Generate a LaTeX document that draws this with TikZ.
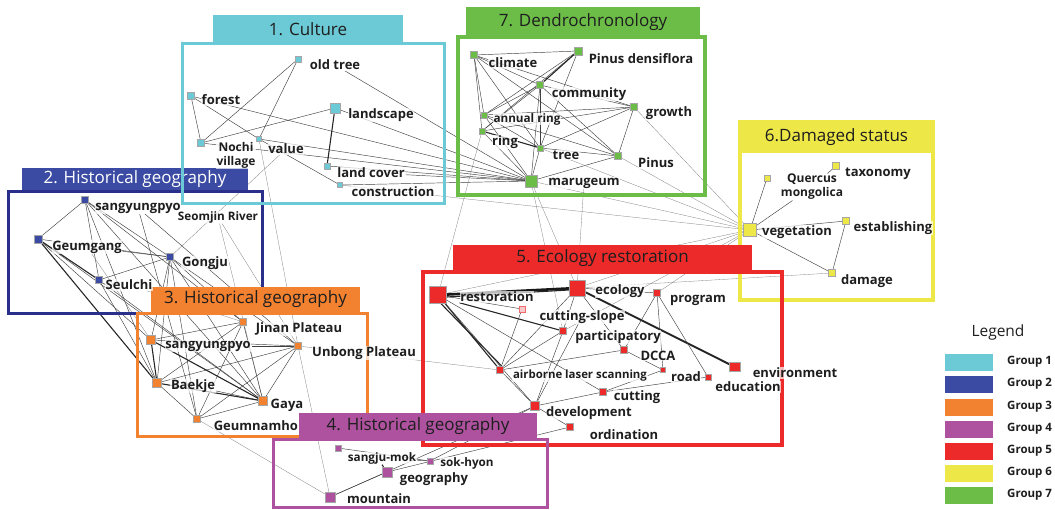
\documentclass[tikz,border=0pt]{standalone}
\usepackage{fontspec}
\setmainfont{Open Sans}
\definecolor{c1}{HTML}{6CCAD6}
\definecolor{c2}{HTML}{3B4BA3}
\definecolor{c2d}{HTML}{2B2F8C}
\definecolor{c3}{HTML}{F28130}
\definecolor{c4}{HTML}{AE519E}
\definecolor{c5}{HTML}{EC2A2A}
\definecolor{c6}{HTML}{EDE847}
\definecolor{c7}{HTML}{6CBD48}
\definecolor{ink}{HTML}{1E1E1E}
\pgfdeclarelayer{edges}
\pgfdeclarelayer{frames}
\pgfdeclarelayer{top}
\pgfsetlayers{edges,frames,main,top}
\tikzset{
  lbl/.style={font=\bfseries\fontsize{13}{14}\selectfont, text=ink, inner sep=0.6pt,
    fill=white, fill opacity=0.7, text opacity=1},
  lbls/.style={lbl, font=\bfseries\fontsize{11.7}{13}\selectfont},
  lbl2/.style={lbl, align=center, font=\bfseries\fontsize{12}{14}\selectfont},
  ttl/.style={font=\fontsize{17}{19}\selectfont, text=ink, inner sep=0pt},
  tab/.style={ttl, rectangle, draw=none},
  ed/.style={draw=black!75, line width=0.45pt},
  edf/.style={draw=black!50, line width=0.3pt},
  edt/.style={draw=black!85, line width=1.1pt},
  edx/.style={draw=black!90, line width=2.6pt},
  nd/.style={rectangle, inner sep=0pt, minimum size=#1, draw=black!35, line width=0.25pt},
  nd/.default=6pt,
  n1/.style={nd=#1, fill=c1}, n1/.default=6pt,
  n2/.style={nd=#1, fill=c2}, n2/.default=7pt,
  n3/.style={nd=#1, fill=c3}, n3/.default=7pt,
  n4/.style={nd=#1, fill=c4}, n4/.default=6pt,
  n5/.style={nd=#1, fill=c5}, n5/.default=7pt,
  n6/.style={nd=#1, fill=c6}, n6/.default=7pt,
  n7/.style={nd=#1, fill=c7}, n7/.default=7pt,
  swatch/.style={rectangle, inner sep=0pt, minimum width=49pt, minimum height=18pt, draw=white, line width=0.6pt},
  glbl/.style={font=\bfseries\fontsize{11.5}{13}\selectfont, text=ink, anchor=west, inner sep=0pt}
}
\begin{document}
\begin{tikzpicture}[x=1pt,y=-1pt]
\useasboundingbox (0,0) rectangle (1055,509);

% ---------- group 1: culture ----------
\node[n1] (ot) at (298,59) {};
\node[n1=7pt] (fo) at (191,96) {};
\node[n1=10pt] (ls) at (335,108) {};
\node[n1=7pt] (nv) at (201,143) {};
\node[n1=5pt] (va) at (259,139) {};
\node[n1] (lc) at (327,166) {};
\node[n1=5pt] (co) at (340,185) {};
\node[lbl] (l-ot) at (335,65) {old tree};
\node[lbl] (l-fo) at (221,100) {forest};
\node[lbl] (l-ls) at (381,115) {landscape};
\node[lbl2] (l-nv) at (236,155) {Nochi\\village};
\node[lbl] (l-va) at (286,149) {value};
\node[lbl] (l-lc) at (371,173) {land cover};
\node[lbl] (l-co) at (393,192) {construction};

% ---------- group 2: historical geography ----------
\node[n2] (s2) at (85,200) {};
\node[n2=8pt] (gm) at (38,239) {};
\node[n2] (gj) at (170,257) {};
\node[n2] (sc) at (99,280) {};
\node[lbl] (l-s2) at (138,208) {sangyungpyo};
\node[lbl] (l-gm) at (87,247) {Geumgang};
\node[lbl] (l-gj) at (205,263) {Gongju};
\node[lbl] (l-sc) at (129,285) {Seulchi};
\node[lbls] (l-sm) at (218,217) {Seomjin River};

% ---------- group 3: historical geography ----------
\node[n3] (ji) at (243,322) {};
\node[n3=9pt] (s3) at (151,340) {};
\node[n3] (ub) at (298,346) {};
\node[n3=9pt] (bk) at (157,383) {};
\node[n3=9pt] (ga) at (263,401) {};
\node[n3] (gn) at (197,419) {};
\node[lbl] (l-ji) at (299,329) {Jinan Plateau};
\node[lbl] (l-s3) at (208,346) {sangyungpyo};
\node[lbl] (l-ub) at (364,353) {Unbong Plateau};
\node[lbl] (l-bk) at (193,386) {Baekje};
\node[lbl] (l-ga) at (287,405) {Gaya};
\node[lbl, anchor=west] (l-gn) at (213,426) {Geumnamho};

% ---------- group 4: historical geography ----------
\node[n4] (sj) at (338,448) {};
\node[n4] (sh) at (430,461) {};
\node[n4=10pt] (ge) at (387,472) {};
\node[n4=10pt] (mo) at (330,497) {};
\node[lbls] (l-sj) at (382,458) {sangju-mok};
\node[lbls] (l-sh) at (467,463) {sok-hyon};
\node[lbl] (l-ge) at (434,479) {geography};
\node[lbl] (l-mo) at (379,499) {mountain};

% ---------- group 5: ecology restoration ----------
\node[n5=17pt] (re) at (438,295) {};
\node[n5=16pt] (ec) at (577,288) {};
\node[n5] (pr) at (657,293) {};
\node[nd=6pt, fill=c5!25, draw=c5!70] (cs) at (522,309) {};
\node[n5] (pa) at (563,331) {};
\node[n5] (dc) at (624,350) {};
\node[n5=9pt, minimum width=11pt] (en) at (735,367) {};
\node[n5] (ai) at (500,370) {};
\node[n5=5pt] (ro) at (663,370) {};
\node[n5=6pt] (ed) at (708,377) {};
\node[n5] (cu) at (603,392) {};
\node[n5=9pt] (de) at (535,406) {};
\node[n5] (or) at (570,427) {};
\node[lbl] (l-re) at (497,297) {restoration};
\node[lbl] (l-ec) at (620,291) {ecology};
\node[lbl] (l-pr) at (698,300) {program};
\node[lbl] (l-cs) at (582,317) {cutting-slope};
\node[lbl] (l-pa) at (618,337) {participatory};
\node[lbl] (l-dc) at (658,356) {DCCA};
\node[lbl] (l-en) at (795,373) {environment};
\node[lbls, font=\bfseries\fontsize{11.4}{13}\selectfont] (l-ai) at (580,376) {airborne laser scanning};
\node[lbl] (l-ro) at (686,377) {road};
\node[lbl] (l-ed) at (748,387) {education};
\node[lbl] (l-cu) at (637,397) {cutting};
\node[lbl] (l-de) at (589,413) {development};
\node[lbl] (l-or) at (624,435) {ordination};

% ---------- group 6: damaged status ----------
\node[n6=6pt] (qm) at (767,178) {};
\node[n6] (tx) at (836,166) {};
\node[n6=13pt] (vg) at (750,230) {};
\node[n6] (es) at (846,221) {};
\node[n6] (dm) at (832,273) {};
\node[lbl2] (l-qm) at (812,187) {Quercus\\mongolica};
\node[lbl] (l-tx) at (878,174) {taxonomy};
\node[lbl] (l-vg) at (797,232) {vegetation};
\node[lbl] (l-es) at (893,228) {establishing};
\node[lbl] (l-dm) at (867,281) {damage};

% ---------- group 7: dendrochronology ----------
\node[n7] (cl) at (474,55) {};
\node[n7=8pt] (pd) at (578,51) {};
\node[n7] (cm) at (540,85) {};
\node[n7] (gr) at (634,107) {};
\node[n7=6pt] (ar) at (484,115) {};
\node[n7=6pt] (ri) at (482,131) {};
\node[n7=6pt] (tr) at (540,148) {};
\node[n7] (pn) at (618,156) {};
\node[n7=12pt] (mg) at (531,181) {};
\node[lbl] (l-cl) at (513,63) {climate};
\node[lbl] (l-pd) at (641,59) {Pinus densiflora};
\node[lbl] (l-cm) at (589,94) {community};
\node[lbl] (l-gr) at (669,113) {growth};
\node[lbls] (l-ar) at (527,119) {annual ring};
\node[lbl] (l-ri) at (505,142) {ring};
\node[lbl] (l-tr) at (566,155) {tree};
\node[lbl] (l-pn) at (656,163) {Pinus};
\node[lbl] (l-mg) at (584,183) {marugeum};

% ---------- links ----------
\begin{pgfonlayer}{edges}
  % culture
  \foreach \a/\b in {ot/nv, ot/va, fo/nv, fo/va, ls/nv, va/co, fo/mg, ls/mg, va/mg,
      nv/mg, lc/mg, co/mg, l-ot/mg, l-lc/mg}
    \draw[ed] (\a) -- (\b);
  \draw[edt] (ls) -- (lc);
  \foreach \a/\b in {co/vg, va/ub, l-sm/ga, l-sm/ub, l-va/gj}
    \draw[edf] (\a) -- (\b);
  % dendrochronology
  \foreach \a/\b in {cl/ar, cl/ri, cl/cm, cl/tr, cl/pn, cl/gr, pd/ar, pd/ri, pd/cl, pd/tr,
      cm/ar, cm/ri, cm/tr, cm/pn, cm/gr, gr/ar, gr/tr, gr/pn, gr/ri, ar/tr, ar/pn,
      tr/mg, ri/mg, pn/mg, cm/mg, ar/mg, tr/pn}
    \draw[ed] (\a) -- (\b);
  \draw[edt] (pd) -- (cm);
  \draw[edt] (ri) -- (tr);
  \foreach \a/\b in {mg/vg, tr/vg, pn/vg, gr/vg, mg/ec, l-mg/ec, ri/re, mg/pa}
    \draw[edf] (\a) -- (\b);
  % historical geography (2 and 3)
  \foreach \a/\b in {s2/gm, s2/sc, s2/gj, gm/gj, sc/gj, s2/ji, s2/ga, s2/bk, gm/ga, gm/s3,
      sc/ga, sc/bk, gj/s3, gj/ji, gj/bk, gj/gn, gj/ga, gj/ub, l-gm/gj, l-s2/gn, l-s2/ub,
      bk/gn, ji/s3, ji/bk, ji/ga, ub/s3, ub/bk, ub/gn, ub/ga, ga/gn, ji/gn, l-s3/ub, l-bk/ga}
    \draw[ed] (\a) -- (\b);
  \foreach \a/\b in {gm/sc, gm/bk, s3/bk, s3/ga, bk/ga}
    \draw[edt] (\a) -- (\b);
  \foreach \a/\b in {ub/ai, gn/mo, ub/mo, l-gm/s3, l-sc/ji}
    \draw[edf] (\a) -- (\b);
  % historical geography (4)
  \draw[edt] (l-sj.south) -- (ge);
  \foreach \a/\b in {sj/sh, l-sj/sh, ge/mo, de/sh, or/ge, de/mo}
    \draw[ed] (\a) -- (\b);
  % ecology restoration
  \draw[edx] (re) -- (ec);
  \draw[edt] ([yshift=-2pt]re.east) -- ([yshift=-2pt]ec.west);
  \draw[edt] (re) -- (ai);
  \draw[edt] ([xshift=3pt]re.south) -- ([xshift=2pt]ai.north);
  \draw[edt] (l-re.south west) -- (pa);
  \draw[edt, line width=2pt] (ec) -- (en);
  \foreach \a/\b in {re/cu, re/cs, re/de, ec/pr, ec/pa, ec/dc, ec/ai, pa/ai, pa/de,
      pr/dc, pr/ed, pr/ro, dc/ai, dc/ro, ro/cu, cu/de, ai/de, de/or, cs/ai, ed/cu, l-cs/de}
    \draw[ed] (\a) -- (\b);
  \foreach \a/\b in {vg/re, vg/ec, vg/pr, dm/ec, vg/pa}
    \draw[edf] (\a) -- (\b);
  % damaged status
  \foreach \a/\b in {qm/vg, tx/l-qm, vg/l-qm, vg/es, es/dm, vg/dm}
    \draw[ed] (\a) -- (\b);
\end{pgfonlayer}

% ---------- group frames and headers ----------
\begin{pgfonlayer}{frames}
  % 2
  \draw[c2d, line width=3pt] (8,191) rectangle (262,313);
  \node[tab, fill=c2, text=white, minimum width=226pt, minimum height=22pt] (t2) at (135,179) {2. Historical geography};
  % 1
  \draw[c1, line width=3pt] (182,43) rectangle (444,203);
  \node[tab, fill=c1, minimum width=190pt, minimum height=28pt] (t1) at (308,29) {1. Culture};
  % 7
  \draw[c7, line width=3.5pt] (458,37) rectangle (705,195);
  \node[tab, fill=c7, minimum width=234pt, minimum height=30pt] (t7) at (583,22) {7. Dendrochronology};
  % 6
  \draw[c6, line width=3.5pt] (740,122) rectangle (933,300);
  \node[tab, fill=c6, minimum width=193pt, minimum height=31pt] (t6) at (836.5,137.5) {6.Damaged status};
  % 3
  \draw[c3, line width=3pt] (137,313) rectangle (367,436);
  \node[tab, fill=c3, minimum width=209pt, minimum height=26pt] (t3) at (255.5,299.5) {3. Historical geography};
  % 5
  \draw[c5, line width=3.5pt] (423,272) rectangle (782,445);
  \node[tab, fill=c5, minimum width=299pt, minimum height=27pt] (t5) at (602.5,258.5) {5. Ecology restoration};
\end{pgfonlayer}
\begin{pgfonlayer}{top}
  % 4
  \draw[c4, line width=3pt] (273,439) rectangle (547,507);
  \node[tab, fill=c4, minimum width=238pt, minimum height=26pt] (t4) at (418,426) {4. Historical geography};
\end{pgfonlayer}

% ---------- legend ----------
\node[font=\fontsize{15.5}{17}\selectfont, text=ink] (lg) at (998,332) {Legend};
\foreach \i/\c/\y in {1/c1/362, 2/c2/384, 3/c3/407, 4/c4/429, 5/c5/451, 6/c6/473, 7/c7/495}{
  \node[swatch, fill=\c] (sw\i) at (968.5,\y) {};
  \node[glbl] (gl\i) at (1007,\y) {Group \i};
}
\end{tikzpicture}
\end{document}
